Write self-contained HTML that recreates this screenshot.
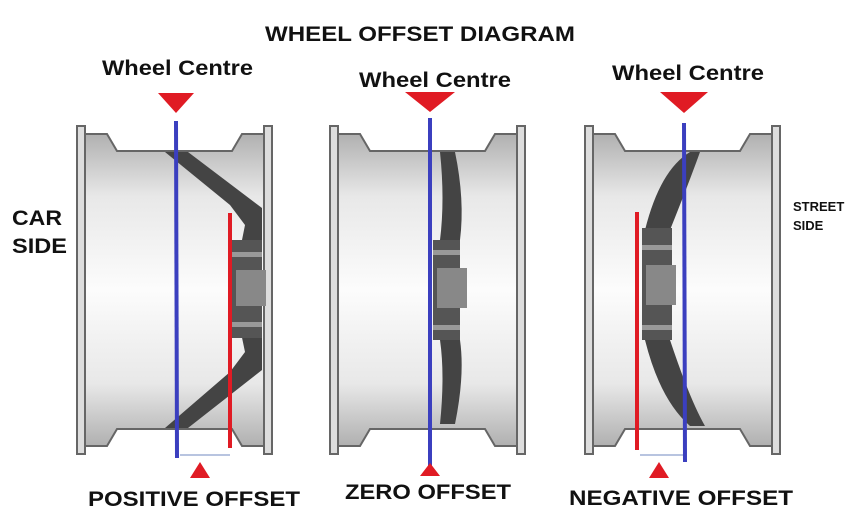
<!DOCTYPE html>
<html><head><style>
body{margin:0;background:#fff;}
svg{display:block}
text{font-family:"Liberation Sans",Arial,sans-serif;font-weight:bold;fill:#111}
</style></head><body>
<svg width="858" height="528" viewBox="0 0 858 528" xmlns="http://www.w3.org/2000/svg">
<defs>
<linearGradient id="g" x1="0" y1="0" x2="0" y2="1">
<stop offset="0" stop-color="#b0b0b0"/><stop offset="0.2" stop-color="#e8e8e8"/><stop offset="0.5" stop-color="#fcfcfc"/><stop offset="0.8" stop-color="#e8e8e8"/><stop offset="1" stop-color="#b0b0b0"/>
</linearGradient>
<g id="w">
<rect x="0" y="0" width="8" height="328" fill="#ddd" stroke="#666" stroke-width="2"/>
<rect x="187" y="0" width="8" height="328" fill="#ddd" stroke="#666" stroke-width="2"/>
<path d="M8 8 H30 L40 25 H155 L165 8 H187 V320 H165 L155 303 H40 L30 320 H8 Z" fill="url(#g)" stroke="#666" stroke-width="2"/>
</g>
</defs>
<text x="265" y="41" font-size="21" textLength="310" lengthAdjust="spacingAndGlyphs">WHEEL OFFSET DIAGRAM</text>
<text x="102" y="75" font-size="21" textLength="151" lengthAdjust="spacingAndGlyphs">Wheel Centre</text>
<text x="359" y="87" font-size="21" textLength="152" lengthAdjust="spacingAndGlyphs">Wheel Centre</text>
<text x="612" y="80" font-size="21" textLength="152" lengthAdjust="spacingAndGlyphs">Wheel Centre</text>
<text x="12" y="225" font-size="21" textLength="50" lengthAdjust="spacingAndGlyphs">CAR</text>
<text x="12" y="253" font-size="21" textLength="55" lengthAdjust="spacingAndGlyphs">SIDE</text>
<text x="793" y="211" font-size="13">STREET</text>
<text x="793" y="230" font-size="13">SIDE</text>
<text x="88" y="506" font-size="21" textLength="212" lengthAdjust="spacingAndGlyphs">POSITIVE OFFSET</text>
<text x="345" y="499" font-size="21" textLength="166" lengthAdjust="spacingAndGlyphs">ZERO OFFSET</text>
<text x="569" y="505" font-size="21" textLength="224" lengthAdjust="spacingAndGlyphs">NEGATIVE OFFSET</text>

<use href="#w" x="77" y="126"/>
<path d="M165 152 H188 L262 208 V250 L240 250 L245 225 L230 205 Z" fill="#444"/>
<path d="M165 428 H188 L262 370 V328 L240 328 L245 352 L230 372 Z" fill="#444"/>
<rect x="232" y="240" width="30" height="98" fill="#555"/>
<rect x="236" y="270" width="30" height="36" fill="#888"/>
<rect x="232" y="252" width="30" height="5" fill="#999"/>
<rect x="232" y="322" width="30" height="5" fill="#999"/>

<use href="#w" x="330" y="126"/>
<path d="M440 152 H455 Q465 200 460 240 H440 Q445 200 440 152Z" fill="#444"/>
<path d="M440 424 H455 Q465 375 460 340 H440 Q445 375 440 424Z" fill="#444"/>
<rect x="433" y="240" width="27" height="100" fill="#555"/>
<rect x="437" y="268" width="30" height="40" fill="#888"/>
<rect x="433" y="250" width="27" height="5" fill="#999"/>
<rect x="433" y="325" width="27" height="5" fill="#999"/>

<use href="#w" x="585" y="126"/>
<path d="M700 152 H690 Q660 170 645 230 H670 Q690 180 700 152Z" fill="#444"/>
<path d="M705 426 H690 Q660 400 645 340 H670 Q690 400 705 426Z" fill="#444"/>
<rect x="642" y="228" width="30" height="112" fill="#555"/>
<rect x="646" y="265" width="30" height="40" fill="#888"/>
<rect x="642" y="245" width="30" height="5" fill="#999"/>
<rect x="642" y="325" width="30" height="5" fill="#999"/>

<line x1="180" y1="455" x2="230" y2="455" stroke="#b8c4e0" stroke-width="2"/>
<line x1="640" y1="455" x2="684" y2="455" stroke="#b8c4e0" stroke-width="2"/>
<line x1="176" y1="121" x2="177" y2="458" stroke="#3b3fbf" stroke-width="4"/>
<line x1="230" y1="213" x2="230" y2="448" stroke="#e01b24" stroke-width="4"/>
<line x1="430" y1="118" x2="430" y2="466" stroke="#3b3fbf" stroke-width="4"/>
<line x1="684" y1="123" x2="685" y2="462" stroke="#3b3fbf" stroke-width="4"/>
<line x1="637" y1="212" x2="637" y2="450" stroke="#e01b24" stroke-width="4"/>
<polygon points="158,93 194,93 176,113" fill="#e01b24"/>
<polygon points="405,92 455,92 430,112" fill="#e01b24"/>
<polygon points="660,92 708,92 684,113" fill="#e01b24"/>
<polygon points="190,478 210,478 200,462" fill="#e01b24"/>
<polygon points="420,476 440,476 430,463" fill="#e01b24"/>
<polygon points="649,478 669,478 659,462" fill="#e01b24"/>
</svg>
</body></html>
